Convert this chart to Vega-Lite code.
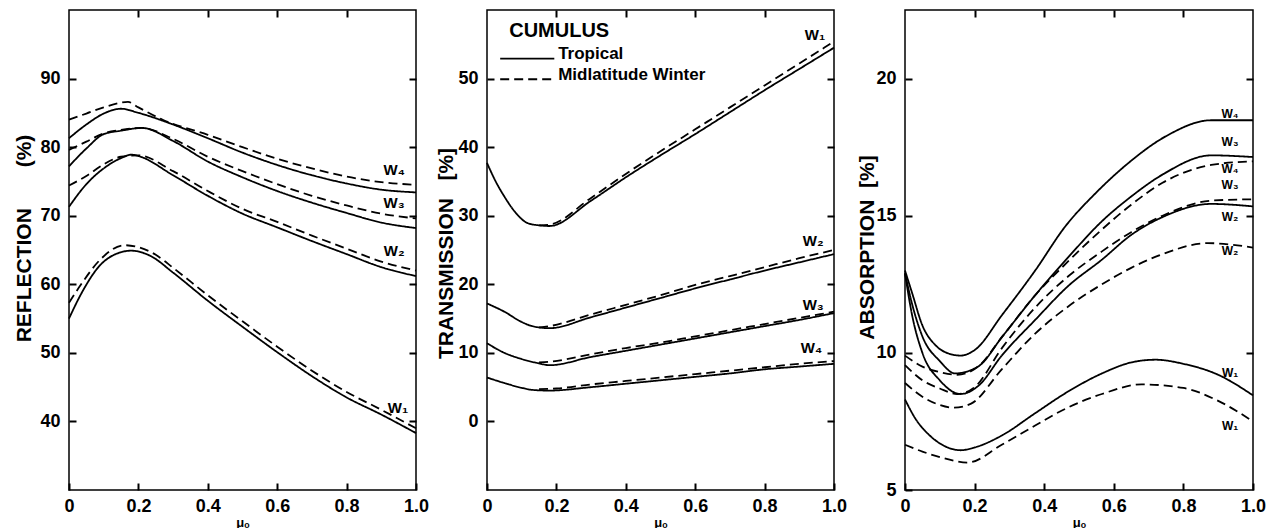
{
"$schema": "https://vega.github.io/schema/vega-lite/v6.json",
"background": "white",
"padding": {"left": 12, "top": 8, "right": 0, "bottom": 0},
"config": {
  "view": {"stroke": "black", "strokeWidth": 1.5},
  "font": "Liberation Sans",
  "axis": {"domain": false, "grid": false, "tickColor": "black", "tickWidth": 2, "tickSize": -7, "labelColor": "black", "labelFont": "Liberation Sans", "labelFontWeight": "bold", "labelFontSize": 18, "labelFlush": false, "labelOverlap": false, "titleColor": "black", "titleFont": "Liberation Sans", "titleFontWeight": "bold"}
},
"datasets": {
"curves": [
{"p":"R","w":"W4","t":"T","x":0,"y":81.3},{"p":"R","w":"W4","t":"T","x":0.05,"y":83.3},{"p":"R","w":"W4","t":"T","x":0.1,"y":84.9},{"p":"R","w":"W4","t":"T","x":0.15,"y":85.6},{"p":"R","w":"W4","t":"T","x":0.2,"y":85.0},{"p":"R","w":"W4","t":"T","x":0.3,"y":83.3},{"p":"R","w":"W4","t":"T","x":0.4,"y":81.3},{"p":"R","w":"W4","t":"T","x":0.5,"y":79.2},{"p":"R","w":"W4","t":"T","x":0.6,"y":77.4},{"p":"R","w":"W4","t":"T","x":0.7,"y":75.9},{"p":"R","w":"W4","t":"T","x":0.8,"y":74.7},{"p":"R","w":"W4","t":"T","x":0.9,"y":73.8},{"p":"R","w":"W4","t":"T","x":1,"y":73.4},
{"p":"R","w":"W4","t":"M","x":0,"y":84.0},{"p":"R","w":"W4","t":"M","x":0.05,"y":84.9},{"p":"R","w":"W4","t":"M","x":0.1,"y":85.8},{"p":"R","w":"W4","t":"M","x":0.17,"y":86.6},{"p":"R","w":"W4","t":"M","x":0.2,"y":85.8},{"p":"R","w":"W4","t":"M","x":0.27,"y":84.0},{"p":"R","w":"W4","t":"M","x":0.4,"y":81.8},{"p":"R","w":"W4","t":"M","x":0.5,"y":80.0},{"p":"R","w":"W4","t":"M","x":0.6,"y":78.3},{"p":"R","w":"W4","t":"M","x":0.7,"y":76.9},{"p":"R","w":"W4","t":"M","x":0.8,"y":75.7},{"p":"R","w":"W4","t":"M","x":0.9,"y":74.9},{"p":"R","w":"W4","t":"M","x":1,"y":74.5},
{"p":"R","w":"W3","t":"T","x":0,"y":77.2},{"p":"R","w":"W3","t":"T","x":0.05,"y":79.8},{"p":"R","w":"W3","t":"T","x":0.1,"y":81.9},{"p":"R","w":"W3","t":"T","x":0.15,"y":82.4},{"p":"R","w":"W3","t":"T","x":0.21,"y":82.8},{"p":"R","w":"W3","t":"T","x":0.3,"y":80.9},{"p":"R","w":"W3","t":"T","x":0.4,"y":77.9},{"p":"R","w":"W3","t":"T","x":0.5,"y":75.6},{"p":"R","w":"W3","t":"T","x":0.6,"y":73.6},{"p":"R","w":"W3","t":"T","x":0.7,"y":71.9},{"p":"R","w":"W3","t":"T","x":0.8,"y":70.4},{"p":"R","w":"W3","t":"T","x":0.9,"y":69.0},{"p":"R","w":"W3","t":"T","x":1,"y":68.2},
{"p":"R","w":"W3","t":"M","x":0,"y":79.6},{"p":"R","w":"W3","t":"M","x":0.05,"y":80.8},{"p":"R","w":"W3","t":"M","x":0.1,"y":82.0},{"p":"R","w":"W3","t":"M","x":0.15,"y":82.5},{"p":"R","w":"W3","t":"M","x":0.21,"y":82.8},{"p":"R","w":"W3","t":"M","x":0.3,"y":81.2},{"p":"R","w":"W3","t":"M","x":0.4,"y":78.6},{"p":"R","w":"W3","t":"M","x":0.5,"y":76.5},{"p":"R","w":"W3","t":"M","x":0.6,"y":74.6},{"p":"R","w":"W3","t":"M","x":0.7,"y":72.9},{"p":"R","w":"W3","t":"M","x":0.8,"y":71.5},{"p":"R","w":"W3","t":"M","x":0.9,"y":70.3},{"p":"R","w":"W3","t":"M","x":1,"y":69.6},
{"p":"R","w":"W2","t":"T","x":0,"y":71.3},{"p":"R","w":"W2","t":"T","x":0.05,"y":74.6},{"p":"R","w":"W2","t":"T","x":0.1,"y":76.9},{"p":"R","w":"W2","t":"T","x":0.15,"y":78.4},{"p":"R","w":"W2","t":"T","x":0.18,"y":78.9},{"p":"R","w":"W2","t":"T","x":0.2,"y":78.7},{"p":"R","w":"W2","t":"T","x":0.3,"y":75.9},{"p":"R","w":"W2","t":"T","x":0.4,"y":72.9},{"p":"R","w":"W2","t":"T","x":0.5,"y":70.3},{"p":"R","w":"W2","t":"T","x":0.6,"y":68.3},{"p":"R","w":"W2","t":"T","x":0.7,"y":66.3},{"p":"R","w":"W2","t":"T","x":0.8,"y":64.4},{"p":"R","w":"W2","t":"T","x":0.9,"y":62.5},{"p":"R","w":"W2","t":"T","x":1,"y":61.2},
{"p":"R","w":"W2","t":"M","x":0,"y":74.4},{"p":"R","w":"W2","t":"M","x":0.05,"y":75.8},{"p":"R","w":"W2","t":"M","x":0.1,"y":77.5},{"p":"R","w":"W2","t":"M","x":0.15,"y":78.6},{"p":"R","w":"W2","t":"M","x":0.2,"y":78.8},{"p":"R","w":"W2","t":"M","x":0.3,"y":76.5},{"p":"R","w":"W2","t":"M","x":0.4,"y":73.6},{"p":"R","w":"W2","t":"M","x":0.5,"y":71.0},{"p":"R","w":"W2","t":"M","x":0.6,"y":69.1},{"p":"R","w":"W2","t":"M","x":0.7,"y":67.1},{"p":"R","w":"W2","t":"M","x":0.8,"y":65.2},{"p":"R","w":"W2","t":"M","x":0.9,"y":63.3},{"p":"R","w":"W2","t":"M","x":1,"y":62.0},
{"p":"R","w":"W1","t":"T","x":0,"y":55.0},{"p":"R","w":"W1","t":"T","x":0.035,"y":58.6},{"p":"R","w":"W1","t":"T","x":0.09,"y":62.8},{"p":"R","w":"W1","t":"T","x":0.13,"y":64.3},{"p":"R","w":"W1","t":"T","x":0.18,"y":64.9},{"p":"R","w":"W1","t":"T","x":0.236,"y":64.1},{"p":"R","w":"W1","t":"T","x":0.3,"y":61.7},{"p":"R","w":"W1","t":"T","x":0.4,"y":57.6},{"p":"R","w":"W1","t":"T","x":0.5,"y":53.8},{"p":"R","w":"W1","t":"T","x":0.6,"y":50.1},{"p":"R","w":"W1","t":"T","x":0.7,"y":46.6},{"p":"R","w":"W1","t":"T","x":0.8,"y":43.5},{"p":"R","w":"W1","t":"T","x":0.9,"y":41.0},{"p":"R","w":"W1","t":"T","x":1,"y":38.3},
{"p":"R","w":"W1","t":"M","x":0,"y":57.3},{"p":"R","w":"W1","t":"M","x":0.035,"y":60.0},{"p":"R","w":"W1","t":"M","x":0.09,"y":63.6},{"p":"R","w":"W1","t":"M","x":0.16,"y":65.7},{"p":"R","w":"W1","t":"M","x":0.2,"y":65.4},{"p":"R","w":"W1","t":"M","x":0.25,"y":64.3},{"p":"R","w":"W1","t":"M","x":0.3,"y":62.4},{"p":"R","w":"W1","t":"M","x":0.4,"y":58.4},{"p":"R","w":"W1","t":"M","x":0.5,"y":54.6},{"p":"R","w":"W1","t":"M","x":0.6,"y":50.9},{"p":"R","w":"W1","t":"M","x":0.7,"y":47.4},{"p":"R","w":"W1","t":"M","x":0.8,"y":44.3},{"p":"R","w":"W1","t":"M","x":0.9,"y":41.7},{"p":"R","w":"W1","t":"M","x":1,"y":39.0},

{"p":"T","w":"W1","t":"T","x":0,"y":37.7},{"p":"T","w":"W1","t":"T","x":0.025,"y":35.0},{"p":"T","w":"W1","t":"T","x":0.05,"y":32.8},{"p":"T","w":"W1","t":"T","x":0.08,"y":30.6},{"p":"T","w":"W1","t":"T","x":0.118,"y":28.9},{"p":"T","w":"W1","t":"T","x":0.15,"y":28.6},{"p":"T","w":"W1","t":"T","x":0.18,"y":28.5},{"p":"T","w":"W1","t":"T","x":0.3,"y":32.2},{"p":"T","w":"W1","t":"T","x":0.4,"y":35.6},{"p":"T","w":"W1","t":"T","x":0.5,"y":38.8},{"p":"T","w":"W1","t":"T","x":0.6,"y":41.9},{"p":"T","w":"W1","t":"T","x":0.7,"y":45.1},{"p":"T","w":"W1","t":"T","x":0.8,"y":48.3},{"p":"T","w":"W1","t":"T","x":0.9,"y":51.4},{"p":"T","w":"W1","t":"T","x":1,"y":54.5},
{"p":"T","w":"W1","t":"M","x":0.15,"y":28.6},{"p":"T","w":"W1","t":"M","x":0.18,"y":28.7},{"p":"T","w":"W1","t":"M","x":0.3,"y":32.6},{"p":"T","w":"W1","t":"M","x":0.4,"y":36.1},{"p":"T","w":"W1","t":"M","x":0.5,"y":39.4},{"p":"T","w":"W1","t":"M","x":0.6,"y":42.6},{"p":"T","w":"W1","t":"M","x":0.7,"y":45.8},{"p":"T","w":"W1","t":"M","x":0.8,"y":49.0},{"p":"T","w":"W1","t":"M","x":0.9,"y":52.2},{"p":"T","w":"W1","t":"M","x":1,"y":55.4},
{"p":"T","w":"W2","t":"T","x":0,"y":17.2},{"p":"T","w":"W2","t":"T","x":0.05,"y":16.0},{"p":"T","w":"W2","t":"T","x":0.1,"y":14.5},{"p":"T","w":"W2","t":"T","x":0.13,"y":13.9},{"p":"T","w":"W2","t":"T","x":0.18,"y":13.6},{"p":"T","w":"W2","t":"T","x":0.3,"y":15.2},{"p":"T","w":"W2","t":"T","x":0.4,"y":16.6},{"p":"T","w":"W2","t":"T","x":0.5,"y":18.0},{"p":"T","w":"W2","t":"T","x":0.6,"y":19.4},{"p":"T","w":"W2","t":"T","x":0.7,"y":20.7},{"p":"T","w":"W2","t":"T","x":0.8,"y":22.0},{"p":"T","w":"W2","t":"T","x":0.9,"y":23.2},{"p":"T","w":"W2","t":"T","x":1,"y":24.4},
{"p":"T","w":"W2","t":"M","x":0.15,"y":13.7},{"p":"T","w":"W2","t":"M","x":0.18,"y":13.9},{"p":"T","w":"W2","t":"M","x":0.3,"y":15.6},{"p":"T","w":"W2","t":"M","x":0.4,"y":17.0},{"p":"T","w":"W2","t":"M","x":0.5,"y":18.4},{"p":"T","w":"W2","t":"M","x":0.6,"y":19.9},{"p":"T","w":"W2","t":"M","x":0.7,"y":21.2},{"p":"T","w":"W2","t":"M","x":0.8,"y":22.5},{"p":"T","w":"W2","t":"M","x":0.9,"y":23.8},{"p":"T","w":"W2","t":"M","x":1,"y":25.0},
{"p":"T","w":"W3","t":"T","x":0,"y":11.4},{"p":"T","w":"W3","t":"T","x":0.05,"y":10.0},{"p":"T","w":"W3","t":"T","x":0.1,"y":9.1},{"p":"T","w":"W3","t":"T","x":0.147,"y":8.5},{"p":"T","w":"W3","t":"T","x":0.18,"y":8.2},{"p":"T","w":"W3","t":"T","x":0.3,"y":9.4},{"p":"T","w":"W3","t":"T","x":0.4,"y":10.3},{"p":"T","w":"W3","t":"T","x":0.5,"y":11.2},{"p":"T","w":"W3","t":"T","x":0.6,"y":12.1},{"p":"T","w":"W3","t":"T","x":0.7,"y":13.0},{"p":"T","w":"W3","t":"T","x":0.8,"y":13.9},{"p":"T","w":"W3","t":"T","x":0.9,"y":14.8},{"p":"T","w":"W3","t":"T","x":1,"y":15.8},
{"p":"T","w":"W3","t":"M","x":0.15,"y":8.6},{"p":"T","w":"W3","t":"M","x":0.18,"y":8.7},{"p":"T","w":"W3","t":"M","x":0.3,"y":9.8},{"p":"T","w":"W3","t":"M","x":0.4,"y":10.7},{"p":"T","w":"W3","t":"M","x":0.5,"y":11.5},{"p":"T","w":"W3","t":"M","x":0.6,"y":12.4},{"p":"T","w":"W3","t":"M","x":0.7,"y":13.3},{"p":"T","w":"W3","t":"M","x":0.8,"y":14.2},{"p":"T","w":"W3","t":"M","x":0.9,"y":15.1},{"p":"T","w":"W3","t":"M","x":1,"y":16.0},
{"p":"T","w":"W4","t":"T","x":0,"y":6.4},{"p":"T","w":"W4","t":"T","x":0.05,"y":5.6},{"p":"T","w":"W4","t":"T","x":0.1,"y":4.9},{"p":"T","w":"W4","t":"T","x":0.13,"y":4.6},{"p":"T","w":"W4","t":"T","x":0.18,"y":4.5},{"p":"T","w":"W4","t":"T","x":0.3,"y":5.0},{"p":"T","w":"W4","t":"T","x":0.4,"y":5.5},{"p":"T","w":"W4","t":"T","x":0.5,"y":6.0},{"p":"T","w":"W4","t":"T","x":0.6,"y":6.5},{"p":"T","w":"W4","t":"T","x":0.7,"y":7.0},{"p":"T","w":"W4","t":"T","x":0.8,"y":7.6},{"p":"T","w":"W4","t":"T","x":0.9,"y":8.0},{"p":"T","w":"W4","t":"T","x":1,"y":8.4},
{"p":"T","w":"W4","t":"M","x":0.15,"y":4.7},{"p":"T","w":"W4","t":"M","x":0.2,"y":4.8},{"p":"T","w":"W4","t":"M","x":0.3,"y":5.4},{"p":"T","w":"W4","t":"M","x":0.4,"y":5.9},{"p":"T","w":"W4","t":"M","x":0.5,"y":6.4},{"p":"T","w":"W4","t":"M","x":0.6,"y":6.9},{"p":"T","w":"W4","t":"M","x":0.7,"y":7.4},{"p":"T","w":"W4","t":"M","x":0.8,"y":7.9},{"p":"T","w":"W4","t":"M","x":0.9,"y":8.4},{"p":"T","w":"W4","t":"M","x":1,"y":8.8},

{"p":"A","w":"W4","t":"T","x":0,"y":13.0},{"p":"A","w":"W4","t":"T","x":0.02,"y":12.2},{"p":"A","w":"W4","t":"T","x":0.05,"y":11.0},{"p":"A","w":"W4","t":"T","x":0.086,"y":10.3},{"p":"A","w":"W4","t":"T","x":0.12,"y":10.0},{"p":"A","w":"W4","t":"T","x":0.16,"y":9.9},{"p":"A","w":"W4","t":"T","x":0.2,"y":10.1},{"p":"A","w":"W4","t":"T","x":0.28,"y":11.4},{"p":"A","w":"W4","t":"T","x":0.374,"y":13.0},{"p":"A","w":"W4","t":"T","x":0.46,"y":14.6},{"p":"A","w":"W4","t":"T","x":0.55,"y":15.85},{"p":"A","w":"W4","t":"T","x":0.64,"y":16.9},{"p":"A","w":"W4","t":"T","x":0.75,"y":17.9},{"p":"A","w":"W4","t":"T","x":0.88,"y":18.48},{"p":"A","w":"W4","t":"T","x":1,"y":18.48},
{"p":"A","w":"W3","t":"T","x":0,"y":12.9},{"p":"A","w":"W3","t":"T","x":0.02,"y":11.8},{"p":"A","w":"W3","t":"T","x":0.05,"y":10.6},{"p":"A","w":"W3","t":"T","x":0.1,"y":9.7},{"p":"A","w":"W3","t":"T","x":0.144,"y":9.25},{"p":"A","w":"W3","t":"T","x":0.21,"y":9.5},{"p":"A","w":"W3","t":"T","x":0.28,"y":10.6},{"p":"A","w":"W3","t":"T","x":0.374,"y":12.1},{"p":"A","w":"W3","t":"T","x":0.47,"y":13.5},{"p":"A","w":"W3","t":"T","x":0.566,"y":14.8},{"p":"A","w":"W3","t":"T","x":0.65,"y":15.7},{"p":"A","w":"W3","t":"T","x":0.74,"y":16.5},{"p":"A","w":"W3","t":"T","x":0.88,"y":17.2},{"p":"A","w":"W3","t":"T","x":1,"y":17.14},
{"p":"A","w":"W4","t":"M","x":0,"y":9.9},{"p":"A","w":"W4","t":"M","x":0.05,"y":9.5},{"p":"A","w":"W4","t":"M","x":0.1,"y":9.3},{"p":"A","w":"W4","t":"M","x":0.15,"y":9.2},{"p":"A","w":"W4","t":"M","x":0.21,"y":9.5},{"p":"A","w":"W4","t":"M","x":0.28,"y":10.6},{"p":"A","w":"W4","t":"M","x":0.374,"y":12.1},{"p":"A","w":"W4","t":"M","x":0.47,"y":13.35},{"p":"A","w":"W4","t":"M","x":0.566,"y":14.5},{"p":"A","w":"W4","t":"M","x":0.65,"y":15.4},{"p":"A","w":"W4","t":"M","x":0.74,"y":16.2},{"p":"A","w":"W4","t":"M","x":0.88,"y":16.85},{"p":"A","w":"W4","t":"M","x":1,"y":16.98},
{"p":"A","w":"W3","t":"M","x":0,"y":9.55},{"p":"A","w":"W3","t":"M","x":0.05,"y":9.0},{"p":"A","w":"W3","t":"M","x":0.1,"y":8.7},{"p":"A","w":"W3","t":"M","x":0.15,"y":8.5},{"p":"A","w":"W3","t":"M","x":0.2,"y":8.75},{"p":"A","w":"W3","t":"M","x":0.28,"y":10.2},{"p":"A","w":"W3","t":"M","x":0.374,"y":11.65},{"p":"A","w":"W3","t":"M","x":0.47,"y":12.8},{"p":"A","w":"W3","t":"M","x":0.566,"y":13.7},{"p":"A","w":"W3","t":"M","x":0.65,"y":14.4},{"p":"A","w":"W3","t":"M","x":0.74,"y":15.0},{"p":"A","w":"W3","t":"M","x":0.88,"y":15.55},{"p":"A","w":"W3","t":"M","x":1,"y":15.6},
{"p":"A","w":"W2","t":"T","x":0,"y":12.9},{"p":"A","w":"W2","t":"T","x":0.02,"y":11.4},{"p":"A","w":"W2","t":"T","x":0.05,"y":10.0},{"p":"A","w":"W2","t":"T","x":0.1,"y":9.0},{"p":"A","w":"W2","t":"T","x":0.16,"y":8.5},{"p":"A","w":"W2","t":"T","x":0.211,"y":8.8},{"p":"A","w":"W2","t":"T","x":0.278,"y":9.9},{"p":"A","w":"W2","t":"T","x":0.374,"y":11.2},{"p":"A","w":"W2","t":"T","x":0.47,"y":12.45},{"p":"A","w":"W2","t":"T","x":0.566,"y":13.4},{"p":"A","w":"W2","t":"T","x":0.65,"y":14.3},{"p":"A","w":"W2","t":"T","x":0.74,"y":14.95},{"p":"A","w":"W2","t":"T","x":0.88,"y":15.43},{"p":"A","w":"W2","t":"T","x":1,"y":15.34},
{"p":"A","w":"W2","t":"M","x":0,"y":8.9},{"p":"A","w":"W2","t":"M","x":0.05,"y":8.4},{"p":"A","w":"W2","t":"M","x":0.1,"y":8.1},{"p":"A","w":"W2","t":"M","x":0.14,"y":8.0},{"p":"A","w":"W2","t":"M","x":0.19,"y":8.15},{"p":"A","w":"W2","t":"M","x":0.278,"y":9.4},{"p":"A","w":"W2","t":"M","x":0.374,"y":10.7},{"p":"A","w":"W2","t":"M","x":0.47,"y":11.7},{"p":"A","w":"W2","t":"M","x":0.566,"y":12.5},{"p":"A","w":"W2","t":"M","x":0.65,"y":13.1},{"p":"A","w":"W2","t":"M","x":0.74,"y":13.6},{"p":"A","w":"W2","t":"M","x":0.87,"y":14.0},{"p":"A","w":"W2","t":"M","x":1,"y":13.84},
{"p":"A","w":"W1","t":"T","x":0,"y":8.3},{"p":"A","w":"W1","t":"T","x":0.03,"y":7.6},{"p":"A","w":"W1","t":"T","x":0.07,"y":7.0},{"p":"A","w":"W1","t":"T","x":0.1,"y":6.7},{"p":"A","w":"W1","t":"T","x":0.16,"y":6.45},{"p":"A","w":"W1","t":"T","x":0.2,"y":6.55},{"p":"A","w":"W1","t":"T","x":0.28,"y":7.0},{"p":"A","w":"W1","t":"T","x":0.374,"y":7.8},{"p":"A","w":"W1","t":"T","x":0.47,"y":8.6},{"p":"A","w":"W1","t":"T","x":0.566,"y":9.25},{"p":"A","w":"W1","t":"T","x":0.65,"y":9.65},{"p":"A","w":"W1","t":"T","x":0.72,"y":9.75},{"p":"A","w":"W1","t":"T","x":0.8,"y":9.6},{"p":"A","w":"W1","t":"T","x":0.9,"y":9.2},{"p":"A","w":"W1","t":"T","x":1,"y":8.45},
{"p":"A","w":"W1","t":"M","x":0,"y":6.65},{"p":"A","w":"W1","t":"M","x":0.05,"y":6.4},{"p":"A","w":"W1","t":"M","x":0.1,"y":6.2},{"p":"A","w":"W1","t":"M","x":0.18,"y":6.0},{"p":"A","w":"W1","t":"M","x":0.278,"y":6.65},{"p":"A","w":"W1","t":"M","x":0.374,"y":7.35},{"p":"A","w":"W1","t":"M","x":0.451,"y":7.9},{"p":"A","w":"W1","t":"M","x":0.566,"y":8.5},{"p":"A","w":"W1","t":"M","x":0.68,"y":8.85},{"p":"A","w":"W1","t":"M","x":0.8,"y":8.72},{"p":"A","w":"W1","t":"M","x":0.9,"y":8.25},{"p":"A","w":"W1","t":"M","x":1,"y":7.5}
],
"labels": [
{"p":"R","lab":"W₄","x":0.937,"y":76.6},{"p":"R","lab":"W₃","x":0.937,"y":71.8},{"p":"R","lab":"W₂","x":0.937,"y":64.9},{"p":"R","lab":"W₁","x":0.948,"y":41.9},
{"p":"T","lab":"W₁","x":0.945,"y":56.3},{"p":"T","lab":"W₂","x":0.94,"y":26.3},{"p":"T","lab":"W₃","x":0.94,"y":17.0},{"p":"T","lab":"W₄","x":0.935,"y":10.7},
{"p":"A","lab":"W₄","x":0.934,"y":18.7},{"p":"A","lab":"W₃","x":0.934,"y":17.68},{"p":"A","lab":"W₄","x":0.934,"y":16.72},{"p":"A","lab":"W₃","x":0.934,"y":16.12},{"p":"A","lab":"W₂","x":0.934,"y":14.94},{"p":"A","lab":"W₂","x":0.934,"y":13.72},{"p":"A","lab":"W₁","x":0.934,"y":9.27},{"p":"A","lab":"W₁","x":0.934,"y":7.32}
],
"legline": [
{"t":"T","x":0.038,"x2":0.194,"y":52.9},{"t":"M","x":0.038,"x2":0.19,"y":49.9}
],
"legtext": [
{"lab":"CUMULUS","x":0.064,"y":56.0},{"lab":"Tropical","x":0.205,"y":52.8},{"lab":"Midlatitude Winter","x":0.205,"y":49.85}
]
},
"spacing": 71,
"bounds": "flush",
"hconcat": [
{
 "width": 347, "height": 480,
 "layer": [
  {"data": {"name": "curves"}, "transform": [{"filter": "datum.p == 'R'"}],
   "mark": {"type": "line", "interpolate": "monotone", "color": "black", "strokeWidth": 1.8},
   "encoding": {
    "x": {"field": "x", "type": "quantitative", "scale": {"domain": [0, 1], "nice": false, "zero": false},
          "axis": {"orient": "bottom", "values": [0, 0.2, 0.4, 0.6, 0.8, 1], "labelExpr": "datum.value == 0 ? '0' : format(datum.value, '.1f')", "labelPadding": 14, "title": "μₒ", "titleFontSize": 13, "titlePadding": 1}},
    "y": {"field": "y", "type": "quantitative", "scale": {"domain": [30, 100], "nice": false, "zero": false},
          "axis": {"orient": "left", "values": [40, 50, 60, 70, 80, 90], "labelPadding": 16, "title": "REFLECTION\u00a0\u00a0\u00a0\u00a0\u00a0\u00a0\u00a0(%)", "titleFontSize": 21, "titleX": -45, "titleY": 228, "titleBaseline": "middle", "titleAlign": "center", "titleAngle": -90}},
    "detail": {"field": "w"},
    "strokeDash": {"field": "t", "type": "nominal", "scale": {"domain": ["T", "M"], "range": [[1, 0], [9, 5]]}, "legend": null}
   }},
  {"data": {"name": "labels"}, "transform": [{"filter": "datum.p == 'R'"}],
   "mark": {"type": "text", "font": "Liberation Sans", "fontWeight": "bold", "fontSize": 15, "color": "black", "align": "center", "baseline": "middle"},
   "encoding": {
    "x": {"field": "x", "type": "quantitative", "scale": {"domain": [0, 1], "nice": false, "zero": false}, "axis": null},
    "y": {"field": "y", "type": "quantitative", "scale": {"domain": [30, 100], "nice": false, "zero": false}, "axis": null},
    "text": {"field": "lab"}
   }},
  {"data": {"name": "curves"}, "transform": [{"filter": "datum.p == 'R'"}],
   "mark": {"type": "point", "opacity": 0},
   "encoding": {
    "x": {"field": "x", "type": "quantitative", "scale": {"domain": [0, 1], "nice": false, "zero": false}, "axis": {"orient": "top", "values": [0.2, 0.4, 0.6, 0.8], "labels": false, "title": null}},
    "y": {"field": "y", "type": "quantitative", "scale": {"domain": [30, 100], "nice": false, "zero": false}, "axis": {"orient": "right", "values": [40, 50, 60, 70, 80, 90], "labels": false, "title": null}}
   }}
 ],
 "resolve": {"axis": {"x": "independent", "y": "independent"}}
},
{
 "width": 347, "height": 480,
 "layer": [
  {"data": {"name": "curves"}, "transform": [{"filter": "datum.p == 'T'"}],
   "mark": {"type": "line", "interpolate": "monotone", "color": "black", "strokeWidth": 1.8},
   "encoding": {
    "x": {"field": "x", "type": "quantitative", "scale": {"domain": [0, 1], "nice": false, "zero": false},
          "axis": {"orient": "bottom", "values": [0, 0.2, 0.4, 0.6, 0.8, 1], "labelExpr": "datum.value == 0 ? '0' : format(datum.value, '.1f')", "labelPadding": 14, "title": "μₒ", "titleFontSize": 13, "titlePadding": 1}},
    "y": {"field": "y", "type": "quantitative", "scale": {"domain": [-10, 60], "nice": false, "zero": false},
          "axis": {"orient": "left", "values": [0, 10, 20, 30, 40, 50], "labelPadding": 16, "title": "TRANSMISSION\u00a0\u00a0\u00a0[%]", "titleFontSize": 21, "titleX": -41, "titleY": 243, "titleBaseline": "middle", "titleAlign": "center", "titleAngle": -90}},
    "detail": {"field": "w"},
    "strokeDash": {"field": "t", "type": "nominal", "scale": {"domain": ["T", "M"], "range": [[1, 0], [9, 5]]}, "legend": null}
   }},
  {"data": {"name": "labels"}, "transform": [{"filter": "datum.p == 'T'"}],
   "mark": {"type": "text", "font": "Liberation Sans", "fontWeight": "bold", "fontSize": 15, "color": "black", "align": "center", "baseline": "middle"},
   "encoding": {
    "x": {"field": "x", "type": "quantitative", "scale": {"domain": [0, 1], "nice": false, "zero": false}, "axis": null},
    "y": {"field": "y", "type": "quantitative", "scale": {"domain": [-10, 60], "nice": false, "zero": false}, "axis": null},
    "text": {"field": "lab"}
   }},
  {"data": {"name": "legline"},
   "mark": {"type": "rule", "color": "black", "strokeWidth": 1.8},
   "encoding": {
    "x": {"field": "x", "type": "quantitative", "scale": {"domain": [0, 1], "nice": false, "zero": false}, "axis": null},
    "x2": {"field": "x2"},
    "y": {"field": "y", "type": "quantitative", "scale": {"domain": [-10, 60], "nice": false, "zero": false}, "axis": null},
    "strokeDash": {"field": "t", "type": "nominal", "scale": {"domain": ["T", "M"], "range": [[1, 0], [9, 5]]}, "legend": null}
   }},
  {"data": {"name": "legtext"}, "transform": [{"filter": "datum.lab == 'CUMULUS'"}],
   "mark": {"type": "text", "font": "Liberation Sans", "fontWeight": "bold", "fontSize": 20, "color": "black", "align": "left", "baseline": "alphabetic"},
   "encoding": {
    "x": {"field": "x", "type": "quantitative", "scale": {"domain": [0, 1], "nice": false, "zero": false}, "axis": null},
    "y": {"field": "y", "type": "quantitative", "scale": {"domain": [-10, 60], "nice": false, "zero": false}, "axis": null},
    "text": {"field": "lab"}
   }},
  {"data": {"name": "legtext"}, "transform": [{"filter": "datum.lab != 'CUMULUS'"}],
   "mark": {"type": "text", "font": "Liberation Sans", "fontWeight": "bold", "fontSize": 17, "color": "black", "align": "left", "baseline": "alphabetic"},
   "encoding": {
    "x": {"field": "x", "type": "quantitative", "scale": {"domain": [0, 1], "nice": false, "zero": false}, "axis": null},
    "y": {"field": "y", "type": "quantitative", "scale": {"domain": [-10, 60], "nice": false, "zero": false}, "axis": null},
    "text": {"field": "lab"}
   }},
  {"data": {"name": "curves"}, "transform": [{"filter": "datum.p == 'T'"}],
   "mark": {"type": "point", "opacity": 0},
   "encoding": {
    "x": {"field": "x", "type": "quantitative", "scale": {"domain": [0, 1], "nice": false, "zero": false}, "axis": {"orient": "top", "values": [0.2, 0.4, 0.6, 0.8], "labels": false, "title": null}},
    "y": {"field": "y", "type": "quantitative", "scale": {"domain": [-10, 60], "nice": false, "zero": false}, "axis": {"orient": "right", "values": [0, 10, 20, 30, 40, 50], "labels": false, "title": null}}
   }}
 ],
 "resolve": {"axis": {"x": "independent", "y": "independent"}}
},
{
 "width": 348, "height": 480,
 "layer": [
  {"data": {"name": "curves"}, "transform": [{"filter": "datum.p == 'A'"}],
   "mark": {"type": "line", "interpolate": "monotone", "color": "black", "strokeWidth": 1.8},
   "encoding": {
    "x": {"field": "x", "type": "quantitative", "scale": {"domain": [0, 1], "nice": false, "zero": false},
          "axis": {"orient": "bottom", "values": [0, 0.2, 0.4, 0.6, 0.8, 1], "labelExpr": "datum.value == 0 ? '0' : format(datum.value, '.1f')", "labelPadding": 14, "title": "μₒ", "titleFontSize": 13, "titlePadding": 1}},
    "y": {"field": "y", "type": "quantitative", "scale": {"domain": [5, 22.5], "nice": false, "zero": false},
          "axis": {"orient": "left", "values": [5, 10, 15, 20], "labelPadding": 16, "title": "ABSORPTION\u00a0\u00a0[%]", "titleFontSize": 21, "titleX": -38, "titleY": 237, "titleBaseline": "middle", "titleAlign": "center", "titleAngle": -90}},
    "detail": {"field": "w"},
    "strokeDash": {"field": "t", "type": "nominal", "scale": {"domain": ["T", "M"], "range": [[1, 0], [9, 5]]}, "legend": null}
   }},
  {"data": {"name": "labels"}, "transform": [{"filter": "datum.p == 'A'"}],
   "mark": {"type": "text", "font": "Liberation Sans", "fontWeight": "bold", "fontSize": 12, "color": "black", "align": "center", "baseline": "middle"},
   "encoding": {
    "x": {"field": "x", "type": "quantitative", "scale": {"domain": [0, 1], "nice": false, "zero": false}, "axis": null},
    "y": {"field": "y", "type": "quantitative", "scale": {"domain": [5, 22.5], "nice": false, "zero": false}, "axis": null},
    "text": {"field": "lab"}
   }},
  {"data": {"name": "curves"}, "transform": [{"filter": "datum.p == 'A'"}],
   "mark": {"type": "point", "opacity": 0},
   "encoding": {
    "x": {"field": "x", "type": "quantitative", "scale": {"domain": [0, 1], "nice": false, "zero": false}, "axis": {"orient": "top", "values": [0.2, 0.4, 0.6, 0.8], "labels": false, "title": null}},
    "y": {"field": "y", "type": "quantitative", "scale": {"domain": [5, 22.5], "nice": false, "zero": false}, "axis": {"orient": "right", "values": [10, 15, 20], "labels": false, "title": null}}
   }}
 ],
 "resolve": {"axis": {"x": "independent", "y": "independent"}}
}
]
}
